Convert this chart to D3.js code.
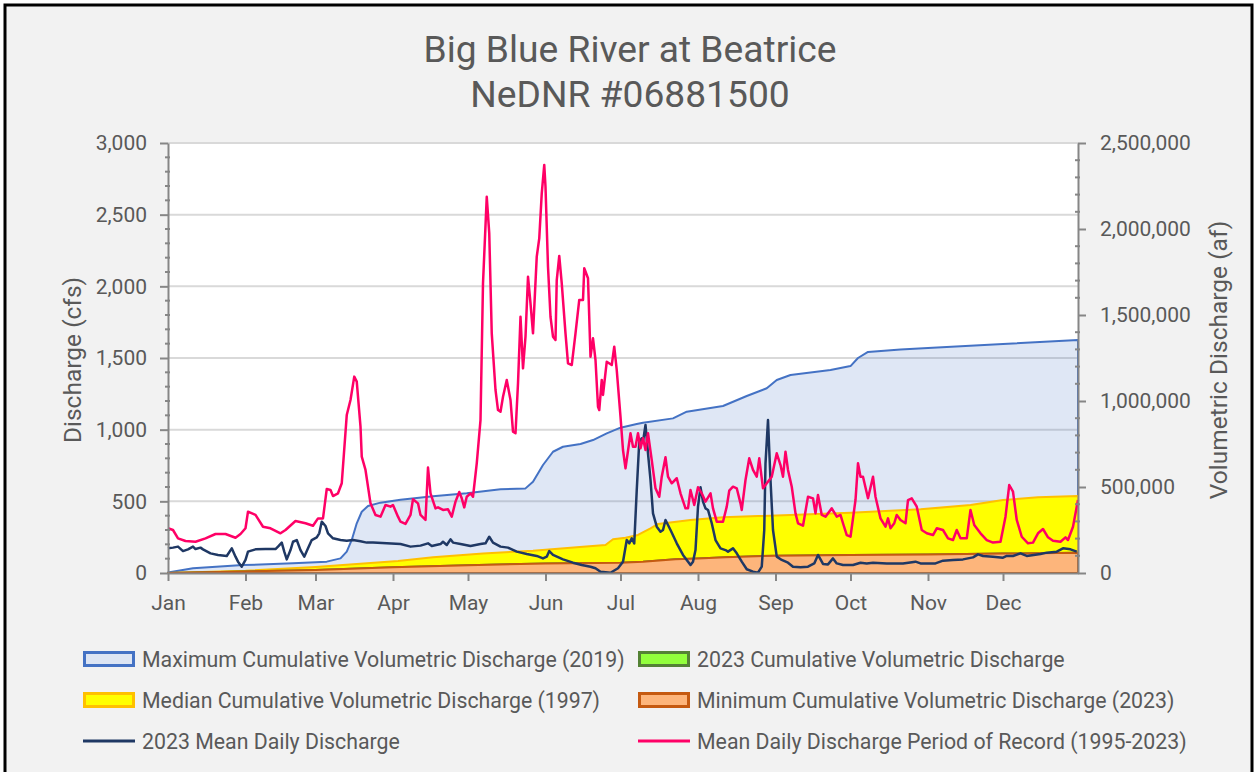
<!DOCTYPE html>
<html>
<head>
<meta charset="utf-8">
<script src="https://cdn.jsdelivr.net/npm/d3@7"></script>
<style>
  html, body { margin: 0; padding: 0; background: #ffffff; }
  svg { display: block; font-family: Roboto, "Noto Sans", sans-serif; }
</style>
</head>
<body>
<svg id="chart" width="1254" height="772"></svg>
<script>
// ---- Chart data (day of year 0 = Jan 1) ----
const titleLines = ["Big Blue River at Beatrice", "NeDNR #06881500"];
const monthLabels = ["Jan","Feb","Mar","Apr","May","Jun","Jul","Aug","Sep","Oct","Nov","Dec"];
const dischargeTicks = [0, 500, 1000, 1500, 2000, 2500, 3000];
const volumeTicks = [0, 500000, 1000000, 1500000, 2000000, 2500000];

// Mean daily discharge, period of record 1995-2023 (cfs)
const porDischarge = [
  [0,312],[2,300],[4,242],[7,223],[11,218],[15,242],[19,272],[23,272],[27,246],[29,272],[31,312],[32,428],
  [35,405],[38,323],[41,312],[45,277],[47,300],[51,363],[55,347],[58,330],[60,381],[62,381],[63.5,586],
  [65,579],[66,537],[68,556],[69.5,626],[71.5,1102],[73,1207],[74.5,1370],[75.5,1335],[77,1021],[77.5,812],
  [79,719],[81,486],[83,405],[85,393],[87,474],[89,463],[90,474],[92,393],[93,358],[95,342],[97,405],
  [98,515],[100,486],[101,405],[103,370],[104,736],[105,556],[107,451],[108,458],[110,440],[112,444],
  [113.5,393],[115,498],[116.5,565],[117.5,521],[118.5,458],[119.5,532],[121,556],[122,532],[123.5,765],
  [125,1067],[126,2021],[127.5,2625],[128.5,2370],[129.5,1672],[131,1277],[132,1137],[133,1125],[134,1230],
  [135.5,1347],[137,1207],[138,986],[139,975],[140,1323],[141,1788],[142,1428],[143,1649],[144,2067],
  [145,1881],[146,1672],[147.5,2207],[148.5,2335],[149.5,2649],[150.5,2847],[151,2695],[152,2137],
  [153,1788],[154,1649],[155,1626],[155.5,2044],[156.5,2212],[157.5,2021],[159,1672],[160,1463],
  [161.5,1451],[163,1672],[164.5,1905],[166,1905],[166.5,2126],[168,2056],[169,1509],[170,1637],
  [171,1486],[172,1160],[172.5,1137],[173.5,1347],[174,1242],[175.5,1474],[177.5,1451],[178.5,1579],
  [179.5,1416],[181,1090],[182,858],[183,730],[185,975],[186,881],[187,881],[188,975],[189,870],[190,940],
  [191,858],[192,975],[193.5,788],[195,591],[196.5,532],[197.5,672],[199,807],[200,672],[201.5,626],
  [203.5,661],[205,556],[207,451],[208,451],[209,579],[210.5,474],[212,598],[213.5,556],[215,498],
  [217,556],[218,451],[219.5,358],[222,358],[223.5,463],[224.5,574],[226,602],[227.5,591],[229,486],
  [229.5,440],[231,649],[232.5,800],[234,719],[235.5,672],[236.5,800],[238,591],[239.5,626],[241.5,672],
  [243.5,835],[245,753],[246,672],[247,846],[248,719],[249.5,602],[251,416],[252,347],[254,330],[256,532],
  [258,521],[259,416],[260,544],[261.5,405],[263,393],[264,416],[265.5,451],[267.5,393],[269,405],
  [270,347],[271.5,265],[273,253],[275,509],[276,765],[277,672],[278,672],[280,521],[282,672],[283,532],
  [285,381],[287,323],[288,381],[289,312],[290.5,347],[291.5,405],[293,370],[295,347],[296,509],
  [297.5,521],[299.5,463],[301.5,300],[303.5,277],[306,265],[307.5,312],[310,300],[312,242],[314,230],
  [315.5,300],[317,242],[319.5,242],[321,440],[322.5,335],[325,277],[327.5,230],[330,212],[333,218],
  [335,393],[336.5,614],[338,567],[339.5,370],[341.5,253],[344,207],[346,212],[348,277],[350,307],
  [352,249],[354,225],[357,218],[359,249],[360,230],[362,323],[364,509]
];

// 2023 mean daily discharge (cfs)
const discharge2023 = [
  [0,172],[2,177],[4,184],[6,153],[8,165],[10,184],[11,167],[13,177],[14,165],[17,137],[20,126],
  [23.5,119],[25.5,172],[27,114],[28,79],[29.5,44],[31,91],[32,149],[35,165],[39,167],[43,167],[44,184],
  [45.5,212],[46.5,149],[47.5,95],[49,160],[50,218],[51.5,230],[53,160],[54.5,114],[56,172],[57.5,230],
  [59.5,249],[60.5,277],[61.5,358],[63,328],[64,277],[66,242],[69,230],[71.5,225],[74,230],[77,221],
  [79.5,212],[82,212],[87.5,207],[93,202],[97,184],[101,191],[104,207],[105.5,188],[109,202],[110,218],
  [111.5,195],[113,235],[114,212],[117,202],[121,188],[125,202],[127,207],[128.5,253],[130,212],[133,184],
  [136,177],[139.5,149],[143.5,133],[147.5,119],[150,102],[151.5,114],[152.5,153],[154,126],[158,95],
  [162,72],[165.5,56],[169,44],[171,33],[173,9],[177,2],[180,33],[182,79],[183.5,230],[184.5,207],
  [185.5,242],[186.5,207],[187.5,579],[188.5,916],[189.5,940],[190,916],[191,1033],[192,835],[193,649],
  [194,416],[195.5,323],[197,288],[198,300],[199,370],[201,300],[203.5,207],[206,126],[209,56],[210,79],
  [211,160],[212,463],[213,598],[214,498],[215,451],[216,440],[217.5,347],[219,230],[221,172],[223,160],
  [224,149],[226,172],[227.5,137],[229.5,79],[231.5,26],[234,9],[236,2],[237.5,44],[238.5,300],[239,765],
  [240,1067],[241,649],[242,300],[243.5,114],[245.5,91],[248,72],[250,44],[253,40],[256,44],[258.5,67],
  [260,126],[262,63],[264,60],[266,102],[267.5,67],[270,56],[274,56],[277,72],[279.5,67],[282,72],
  [287.5,67],[294,67],[299,79],[301,67],[307,67],[310,86],[314,91],[318,95],[322,109],[324,130],[326,119],
  [330,114],[334,107],[335.5,119],[338,119],[341,137],[343.5,119],[349,133],[351.5,142],[355.5,149],
  [358,172],[361,165],[363.5,149]
];

// Cumulative volumetric discharge (acre-feet)
const maxCumulative2019 = [
  [0,3000],[10,27000],[30,46000],[50,56000],[63.5,66000],[69,85000],[71.5,124000],[73.5,192000],
  [75.5,289000],[77.5,356000],[80,390000],[85,409000],[93,426000],[106,446000],[119.5,464000],
  [133,487000],[143,492000],[146,531000],[150,628000],[154,705000],[158,734000],[165,750000],
  [170,773000],[175.5,812000],[181,845000],[187.5,866000],[190,874000],[202,899000],[207.5,938000],
  [222,971000],[231.5,1029000],[239.5,1074000],[243.5,1122000],[249,1151000],[265,1180000],
  [273,1203000],[276,1250000],[280,1285000],[293,1300000],[304,1308000],[334,1331000],[364,1355000]
];
const medianCumulative1997 = [
  [0,0],[31,13000],[59,35000],[92,70000],[106,91000],[126,114000],[146,130000],[166,153000],
  [175,163000],[178,196000],[183,205000],[188,221000],[193,260000],[196,285000],[209,308000],
  [222,324000],[236,331000],[249,337000],[273,351000],[281,356000],[301,370000],[321,395000],
  [334,424000],[348,440000],[364,448000]
];
const minCumulative2023 = [
  [0,0],[31,9000],[59,18000],[90,33000],[120,45000],[151,55000],[181,60000],[190,66000],[203,80000],
  [212,85000],[223,91000],[243,101000],[273,104000],[304,107000],[334,113000],[364,118000]
];
// 2023 is also the minimum year, so its cumulative curve is the same series
const cumulative2023 = minCumulative2023;

const legendLabels = [
  "Maximum Cumulative Volumetric Discharge (2019)",
  "2023 Cumulative Volumetric Discharge",
  "Median Cumulative Volumetric Discharge (1997)",
  "Minimum Cumulative Volumetric Discharge (2023)",
  "2023 Mean Daily Discharge",
  "Mean Daily Discharge Period of Record (1995-2023)"
];

// ---- Layout ----
const plot = { left: 168, right: 1078, top: 143, bottom: 573 };
const textColor = "#595959";
const axisColor = "#868686";

const svg = d3.select("#chart");

// frame
svg.append("rect").attr("x", 5).attr("y", 5).attr("width", 1247).attr("height", 820)
  .attr("fill", "#f2f2f2").attr("stroke", "#000").attr("stroke-width", 3);

// scales
const yearStart = Date.UTC(2023, 0, 1);
const toDate = d => new Date(yearStart + d * 864e5);
const x = d3.scaleUtc().domain([toDate(0), toDate(364)]).range([plot.left, plot.right]);
const yL = d3.scaleLinear().domain([0, 3000]).range([plot.bottom, plot.top]);
const yR = d3.scaleLinear().domain([0, 2500000]).range([plot.bottom, plot.top]);

// plot background
svg.append("rect").attr("x", plot.left).attr("y", plot.top)
  .attr("width", plot.right - plot.left).attr("height", plot.bottom - plot.top).attr("fill", "#ffffff");

// horizontal gridlines
svg.append("g").selectAll("line").data(dischargeTicks.filter(d => d > 0)).join("line")
  .attr("x1", plot.left).attr("x2", plot.right)
  .attr("y1", d => yL(d)).attr("y2", d => yL(d))
  .attr("stroke", "#d9d9d9").attr("stroke-width", 2);

// cumulative areas
const area = d3.area().x(d => x(toDate(d[0]))).y0(yR(0)).y1(d => yR(d[1]));
function drawArea(data, fill, stroke) {
  svg.append("path").datum(data).attr("d", area)
    .attr("fill", fill).attr("stroke", stroke).attr("stroke-width", 2).attr("stroke-linejoin", "round");
}
drawArea(maxCumulative2019, "rgba(68,114,196,0.17)", "#4472c4");
drawArea(medianCumulative1997, "#ffff00", "#ffc000");
drawArea(cumulative2023, "#92ff3c", "#548235");
drawArea(minCumulative2023, "#fdb57b", "#c55a11");

// discharge lines
const line = d3.line().x(d => x(toDate(d[0]))).y(d => yL(d[1]));
svg.append("path").datum(discharge2023).attr("d", line)
  .attr("fill", "none").attr("stroke", "#1f3864").attr("stroke-width", 2.5).attr("stroke-linejoin", "round");
svg.append("path").datum(porDischarge).attr("d", line)
  .attr("fill", "none").attr("stroke", "#ff0066").attr("stroke-width", 2.5).attr("stroke-linejoin", "round");

// ---- Axes ----
function styleAxis(g) {
  g.select(".domain").attr("stroke", axisColor).attr("stroke-width", 2);
  g.selectAll(".tick line").attr("stroke", axisColor).attr("stroke-width", 2);
  g.selectAll(".tick text").attr("fill", textColor).attr("font-size", 21)
    .attr("font-family", "Roboto, 'Noto Sans', sans-serif");
}

// minor ticks (every 100 cfs / 100,000 af)
const minorL = d3.range(0, 3001, 100).filter(v => v % 500 !== 0);
svg.append("g").selectAll("line").data(minorL).join("line")
  .attr("x1", plot.left - 3).attr("x2", plot.left + 2)
  .attr("y1", d => yL(d)).attr("y2", d => yL(d))
  .attr("stroke", axisColor).attr("stroke-width", 2);
const minorR = d3.range(0, 2500001, 100000).filter(v => v % 500000 !== 0);
svg.append("g").selectAll("line").data(minorR).join("line")
  .attr("x1", plot.right - 3).attr("x2", plot.right + 2)
  .attr("y1", d => yR(d)).attr("y2", d => yR(d))
  .attr("stroke", axisColor).attr("stroke-width", 2);

svg.append("g").attr("transform", `translate(${plot.left},0)`)
  .call(d3.axisLeft(yL).tickValues(dischargeTicks).tickSize(8).tickPadding(13)
    .tickFormat(d3.format(",")).tickSizeOuter(0))
  .call(styleAxis);

svg.append("g").attr("transform", `translate(${plot.right},0)`)
  .call(d3.axisRight(yR).tickValues(volumeTicks).tickSize(8).tickPadding(14)
    .tickFormat(d3.format(",")).tickSizeOuter(0))
  .call(styleAxis);

svg.append("g").attr("transform", `translate(0,${plot.bottom})`)
  .call(d3.axisBottom(x).ticks(d3.utcMonth.every(1)).tickSize(8).tickPadding(14)
    .tickFormat(d => monthLabels[d.getUTCMonth()]).tickSizeOuter(0))
  .call(styleAxis);

// ---- Titles ----
svg.append("g").selectAll("text").data(titleLines).join("text")
  .attr("x", 630).attr("y", (d, i) => 62 + i * 45)
  .attr("text-anchor", "middle").attr("fill", textColor).attr("font-size", 37.2)
  .text(d => d);

svg.append("text").attr("transform", "translate(72,360) rotate(-90)")
  .attr("text-anchor", "middle").attr("dominant-baseline", "central")
  .attr("fill", textColor).attr("font-size", 24.5).text("Discharge (cfs)");
svg.append("text").attr("transform", "translate(1218,360) rotate(-90)")
  .attr("text-anchor", "middle").attr("dominant-baseline", "central")
  .attr("fill", textColor).attr("font-size", 24.5).text("Volumetric Discharge (af)");

// ---- Legend ----
const legendStyles = [
  { kind: "box", fill: "#dde5f3", stroke: "#4472c4" },
  { kind: "box", fill: "#92ff3c", stroke: "#548235" },
  { kind: "box", fill: "#ffff00", stroke: "#ffc000" },
  { kind: "box", fill: "#fdb57b", stroke: "#c55a11" },
  { kind: "line", stroke: "#1f3864" },
  { kind: "line", stroke: "#ff0066" }
];
const legendCols = [83, 638];
const legendRows = [659, 700, 741];
legendLabels.forEach((label, i) => {
  const st = legendStyles[i];
  const gx = legendCols[i % 2], gy = legendRows[Math.floor(i / 2)];
  const g = svg.append("g").attr("transform", `translate(${gx},${gy})`);
  if (st.kind === "box") {
    g.append("rect").attr("x", 1.5).attr("y", -6.5).attr("width", 49).attr("height", 13)
      .attr("fill", st.fill).attr("stroke", st.stroke).attr("stroke-width", 3);
  } else {
    g.append("line").attr("x1", 0).attr("x2", 52).attr("y1", 0).attr("y2", 0)
      .attr("stroke", st.stroke).attr("stroke-width", 3);
  }
  g.append("text").attr("x", 59).attr("y", 0).attr("dominant-baseline", "central")
    .attr("fill", textColor).attr("font-size", 21.3).text(label);
});
</script>
</body>
</html>
